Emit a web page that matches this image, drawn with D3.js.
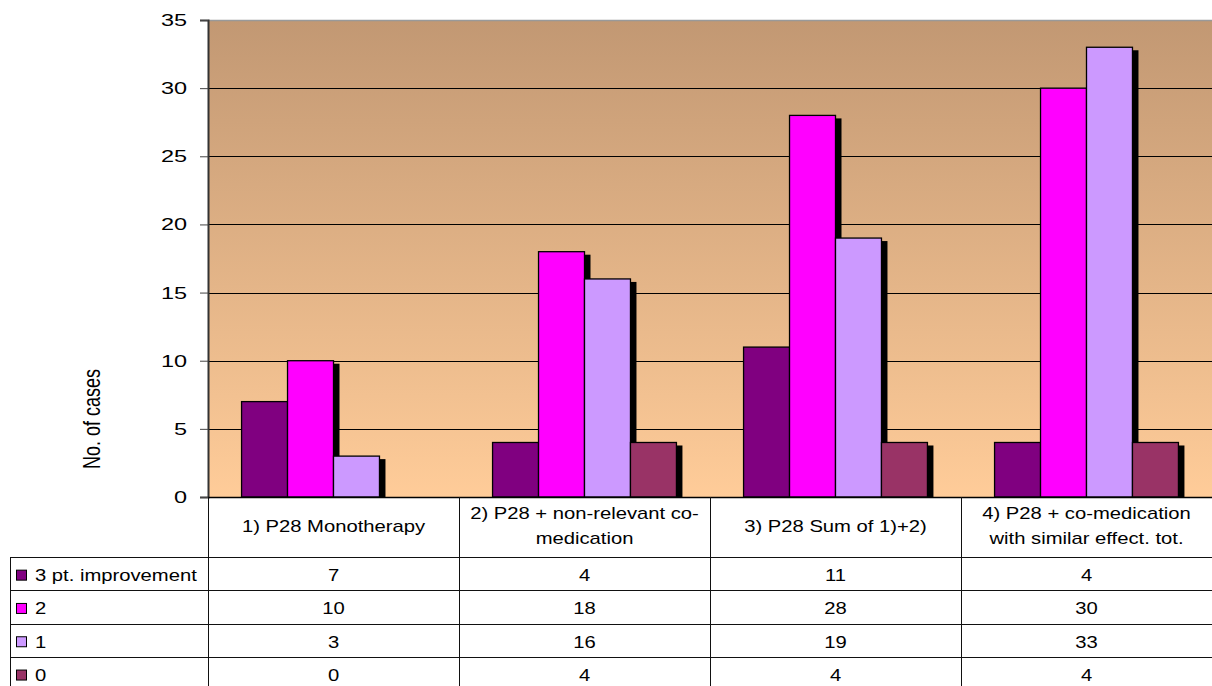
<!DOCTYPE html>
<html><head><meta charset="utf-8">
<script src="https://cdn.jsdelivr.net/npm/d3@7"></script>
<style>
body{margin:0;background:#fff;overflow:hidden}
text{font-family:"Liberation Sans",Arial,sans-serif;fill:#000}
</style></head>
<body><svg id="c" width="1212" height="686"></svg>
<script>
// ---- data ----
const categories = [
  ["1) P28 Monotherapy"],
  ["2) P28 + non-relevant co-", "medication"],
  ["3) P28 Sum of 1)+2)"],
  ["4) P28 + co-medication", "with similar effect. tot."]
];
const seriesNames = ["3 pt. improvement", "2", "1", "0"];
const seriesColors = ["#800080", "#FF00FF", "#CC99FF", "#993366"];
const improvement3 = [7, 4, 11, 4];
const improvement2 = [10, 18, 28, 30];
const improvement1 = [3, 16, 19, 33];
const improvement0 = [0, 4, 4, 4];
const yTicks = [0, 5, 10, 15, 20, 25, 30, 35];
const yLabel = "No. of cases";

const seriesValues = [improvement3, improvement2, improvement1, improvement0];

// ---- layout ----
const W = 1212, H = 686;
const plotL = 208, plotR = 1212, plotT = 20, plotB = 497;
const headerB = 557, rowH = 33.3, tableL = 10;
const shadowDx = 6, shadowDy = 3;

const svg = d3.select("#c");
const catIdx = categories.map((d, i) => i);
const x0 = d3.scaleBand().domain(catIdx).range([plotL, plotR]).paddingInner(0).paddingOuter(0);
const x1 = d3.scaleBand().domain(d3.range(seriesNames.length)).range([0, x0.bandwidth()]).paddingInner(0).paddingOuter(0.73);
const y = d3.scaleLinear().domain([0, 35]).range([plotB, plotT]);

function stext(parent, x, yy, str, anchor, sx, size) {
  return parent.append("text")
    .attr("transform", `translate(${x},${yy}) scale(${sx},1)`)
    .attr("text-anchor", anchor)
    .style("font-size", size + "px")
    .text(str);
}

// background gradient
const defs = svg.append("defs");
const grad = defs.append("linearGradient").attr("id", "bg").attr("x1", 0).attr("y1", 0).attr("x2", 0).attr("y2", 1);
grad.append("stop").attr("offset", "0%").attr("stop-color", "#C29873");
grad.append("stop").attr("offset", "100%").attr("stop-color", "#FFCC99");
defs.append("clipPath").attr("id", "plotclip").append("rect")
  .attr("x", plotL).attr("y", plotT).attr("width", plotR - plotL).attr("height", plotB - plotT);

svg.append("rect").attr("x", plotL).attr("y", plotT).attr("width", plotR - plotL).attr("height", plotB - plotT)
  .attr("fill", "url(#bg)");

// gridlines
svg.append("g").selectAll("line").data(yTicks.filter(t => t > 0 && t < 35)).join("line")
  .attr("x1", plotL).attr("x2", plotR).attr("y1", d => Math.round(y(d)) + 0.5).attr("y2", d => Math.round(y(d)) + 0.5)
  .attr("stroke", "#000").attr("stroke-width", 1);
// top border
svg.append("line").attr("x1", plotL).attr("x2", plotR).attr("y1", plotT + 0.5).attr("y2", plotT + 0.5)
  .attr("stroke", "#999").attr("stroke-width", 1.5);

// bars
const barData = [];
seriesValues.forEach((vals, s) => vals.forEach((v, c) => { if (v > 0) barData.push({ s, c, v }); }));
const bg = svg.append("g").attr("clip-path", "url(#plotclip)");
bg.selectAll("rect.sh").data(barData).join("rect").attr("class", "sh")
  .attr("x", d => x0(d.c) + x1(d.s) + shadowDx)
  .attr("y", d => y(d.v) + shadowDy)
  .attr("width", x1.bandwidth())
  .attr("height", d => y(0) - y(d.v))
  .attr("fill", "#000");
svg.append("g").selectAll("rect.b").data(barData).join("rect").attr("class", "b")
  .attr("x", d => x0(d.c) + x1(d.s))
  .attr("y", d => y(d.v))
  .attr("width", x1.bandwidth())
  .attr("height", d => y(0) - y(d.v))
  .attr("fill", d => seriesColors[d.s])
  .attr("stroke", "#000").attr("stroke-width", 1.3);

// y axis
const ax = svg.append("g").attr("transform", `translate(${plotL},0)`)
  .call(d3.axisLeft(y).tickValues(yTicks).tickSize(8).tickFormat(""));
ax.select(".domain").attr("stroke", "#333").attr("stroke-width", 2);
ax.selectAll(".tick line").attr("stroke", "#444");
yTicks.forEach(t => stext(svg, 187, y(t) + 6, String(t), "end", 1.38, 17));

// y label
svg.append("text")
  .attr("transform", `translate(100,419) scale(1.3,1) rotate(-90)`)
  .attr("text-anchor", "middle")
  .style("font-size", "18px")
  .text(yLabel);

// bottom axis line
svg.append("line").attr("x1", plotL).attr("x2", plotR).attr("y1", plotB + 0.5).attr("y2", plotB + 0.5)
  .attr("stroke", "#000").attr("stroke-width", 1.5);

// ---- data table ----
const tg = svg.append("g");
const lineCol = "#111";
// vertical lines
catIdx.forEach(c => {
  tg.append("line").attr("x1", x0(c) + 0.5).attr("x2", x0(c) + 0.5).attr("y1", plotB).attr("y2", H)
    .attr("stroke", lineCol).attr("stroke-width", 1);
});
tg.append("line").attr("x1", tableL + 0.5).attr("x2", tableL + 0.5).attr("y1", headerB).attr("y2", H)
  .attr("stroke", lineCol).attr("stroke-width", 1);
// horizontal lines
seriesNames.forEach((s, i) => {
  const yy = Math.round(headerB + i * rowH) + 0.5;
  tg.append("line").attr("x1", tableL).attr("x2", plotR).attr("y1", yy).attr("y2", yy)
    .attr("stroke", lineCol).attr("stroke-width", 1);
});
// header labels
categories.forEach((lines, c) => {
  const cx = x0(c) + x0.bandwidth() / 2;
  if (lines.length === 1) {
    stext(tg, cx, 526 + 6, lines[0], "middle", 1.19, 17);
  } else {
    lines.forEach((ln, k) => stext(tg, cx, 513 + k * 25 + 6, ln, "middle", 1.19, 17));
  }
});
// rows
seriesNames.forEach((name, s) => {
  const cy = headerB + s * rowH + rowH / 2 + 1.5;
  tg.append("rect").attr("x", 16.5).attr("y", cy - 5).attr("width", 10).attr("height", 10)
    .attr("fill", seriesColors[s]).attr("stroke", "#000").attr("stroke-width", 1);
  stext(tg, 35, cy + 6, name, "start", 1.19, 17);
  seriesValues[s].forEach((v, c) => {
    stext(tg, x0(c) + x0.bandwidth() / 2, cy + 6, String(v), "middle", 1.19, 17);
  });
});
</script>
</body></html>
